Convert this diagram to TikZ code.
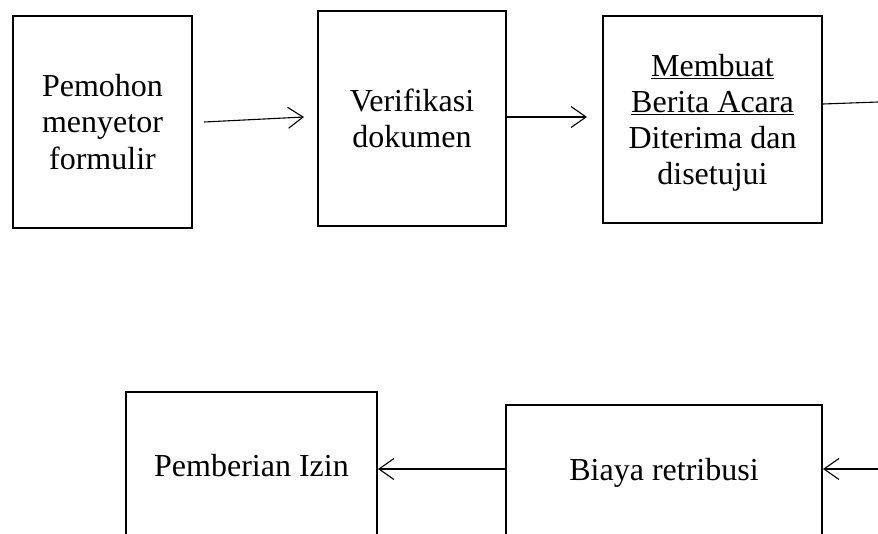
\documentclass[tikz,border=0pt]{standalone}
\usepackage{fontspec}
\setmainfont{Liberation Serif}
\usetikzlibrary{arrows.meta,calc}
\begin{document}
\begin{tikzpicture}[x=1pt,y=-1pt,
  box/.style={draw,line width=2pt,align=center,inner sep=0pt,
    font=\fontsize{32}{36.5}\selectfont},
  txt/.style={align=center,inner sep=0pt,font=\fontsize{32}{36.2}\selectfont},
  arr/.style={line width=1.1pt,-{Straight Barb[length=15pt,width=21pt,line width=1.1pt]}},
  plain/.style={line width=1.1pt}]
\useasboundingbox (0,0) rectangle (878,533);
\clip (0,0) rectangle (878,533);
\node[box,minimum width=179pt,minimum height=212pt] (b1) at (102.5,122) {Pemohon\\menyetor\\formulir};
\node[box,minimum width=188pt,minimum height=215pt] (b2) at (412,118.5) {Verifikasi\\dokumen};
\node[box,minimum width=219pt,minimum height=207pt] (b3) at (712.5,119.5) {};
\node[txt] (t3) at ($(b3.center)+(0,3.5)$) {\underline{Membuat}\\\underline{Berita Acara}\\Diterima dan\\disetujui};
\node[box,minimum width=251pt,minimum height=148pt] (b4) at (251.5,466) {Pemberian Izin};
\node[box,minimum width=316pt,minimum height=136pt] (b5) at (664,473) {Biaya retribusi};
\coordinate (c1) at (878,102);
\coordinate (c2) at (878,469);
\draw[arr] ($(b1.east)+(11,0)$) -- ($(b2.west)+(-13,-1.5)$);
\draw[arr] ($(b2.east)+(0,-1.5)$) -- ($(b3.west)+(-15,-2.5)$);
\draw[plain] ($(b3.east)+(0,-15.5)$) -- (c1);
\draw[arr] (c2) -- ($(b5.east)+(0,-4)$);
\draw[arr] ($(b5.west)+(0,-4)$) -- ($(b4.east)+(0,3)$);
\end{tikzpicture}
\end{document}
